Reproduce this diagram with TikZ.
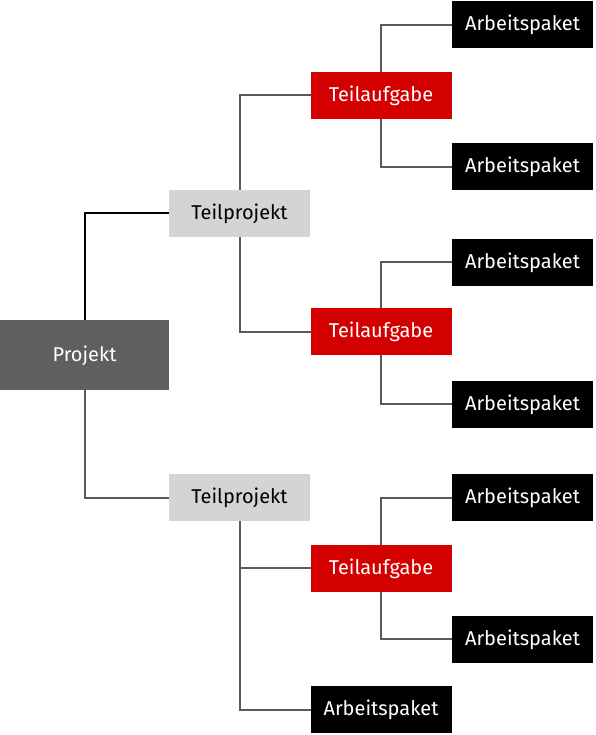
\documentclass[tikz,border=0pt]{standalone}
\usepackage{fontspec}
\setmainfont{Fira Sans}
\definecolor{projgray}{HTML}{5F5F5F}
\definecolor{tpgray}{HTML}{D4D4D4}
\definecolor{tared}{HTML}{D40000}
\definecolor{linegray}{HTML}{5A5A5A}
\begin{document}
\begin{tikzpicture}[x=1pt,y=-1pt,
  box/.style={rectangle,inner sep=0pt,outer sep=0pt,minimum width=141pt,minimum height=47pt,text height=12pt,text depth=0pt,font=\fontsize{20}{24}\selectfont},
  projbox/.style={box,fill=projgray,text=white,minimum width=169pt,minimum height=70pt},
  tpbox/.style={box,fill=tpgray,text=black},
  tabox/.style={box,fill=tared,text=white},
  apbox/.style={box,fill=black,text=white},
  conn/.style={draw=linegray,line width=2pt},
  pconn/.style={draw=black,line width=2pt}]
\useasboundingbox (0,0) rectangle (595,735);
\node[projbox] (p) at (84.5,355) {Projekt};
\node[tpbox] (tp1) at (239.5,213.5) {Teilprojekt};
\node[tpbox] (tp2) at (239.5,497.5) {Teilprojekt};
\node[tabox] (ta1) at (381,95.5) {Teilaufgabe};
\node[tabox] (ta2) at (381,331.5) {Teilaufgabe};
\node[tabox] (ta3) at (381,568) {Teilaufgabe};
\node[apbox] (ap1) at (522.5,25) {Arbeitspaket};
\node[apbox] (ap2) at (522.5,167) {Arbeitspaket};
\node[apbox] (ap3) at (522.5,262) {Arbeitspaket};
\node[apbox] (ap4) at (522.5,404) {Arbeitspaket};
\node[apbox] (ap5) at (522.5,497.5) {Arbeitspaket};
\node[apbox] (ap6) at (522.5,639) {Arbeitspaket};
\node[apbox] (ap7) at (381,709.5) {Arbeitspaket};
\path[pconn] (p.north) |- (tp1.west);
\path[conn] (p.south) |- (tp2.west);
\path[conn] (tp1.north) |- (ta1.west);
\path[conn] (tp1.south) |- (ta2.west);
\path[conn] (ta1.north) |- (ap1.west);
\path[conn] (ta1.south) |- (ap2.west);
\path[conn] (ta2.north) |- (ap3.west);
\path[conn] (ta2.south) |- (ap4.west);
\path[conn] (tp2.south) |- (ap7.west);
\path[conn] (tp2.south |- ta3.west) -- (ta3.west);
\path[conn] (ta3.north) |- (ap5.west);
\path[conn] (ta3.south) |- (ap6.west);
\end{tikzpicture}
\end{document}
